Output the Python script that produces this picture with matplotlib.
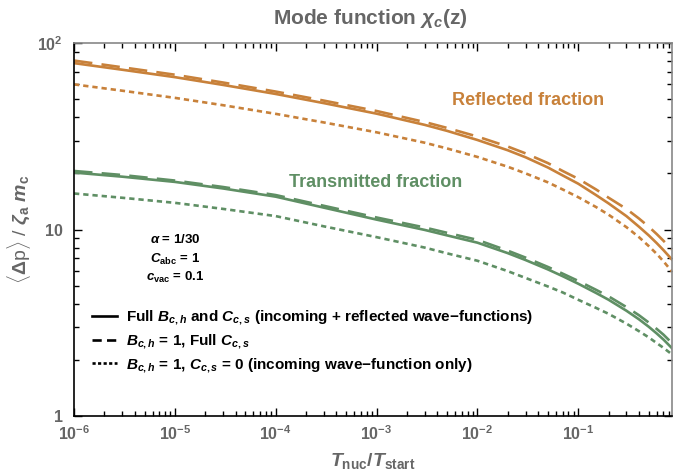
import math
import matplotlib
matplotlib.use("Agg")
import matplotlib.pyplot as plt
from matplotlib.lines import Line2D
from matplotlib.ticker import FixedLocator, FuncFormatter, LogLocator, NullFormatter

plt.rcParams['font.family'] = ['Liberation Sans', 'DejaVu Sans']
plt.rcParams['font.weight'] = 'bold'
plt.rcParams['mathtext.fontset'] = 'custom'
plt.rcParams['mathtext.rm'] = 'Liberation Sans:bold'
plt.rcParams['mathtext.bf'] = 'Liberation Sans:bold'
plt.rcParams['mathtext.it'] = 'Liberation Sans:italic:bold'
plt.rcParams['mathtext.default'] = 'bf'

# T_nuc / T_start
x = [1e-6, 3e-6, 1e-5, 3e-5, 1e-4, 3e-4, 1e-3, 3e-3, 5e-3, 1e-2, 2e-2, 3e-2, 0.05, 0.07,
     0.1, 0.15, 0.2, 0.3, 0.4, 0.5, 0.6, 0.7, 0.85]

# reflected fraction
refl_full = [78, 71.9, 65.6, 59.6, 53.3, 47.6, 41.8, 36.4, 33.8, 30.2, 26.6, 24.4, 21.5, 19.5,
             17.6, 15.3, 13.8, 11.8, 10.35, 9.3, 8.45, 7.75, 6.9]
refl_b1 = [80.5, 74.1, 67.6, 61.4, 54.9, 49.1, 43.2, 37.7, 35.05, 31.5, 27.85, 25.6, 22.7, 20.6,
           18.7, 16.4, 14.8, 12.9, 11.45, 10.35, 9.45, 8.7, 7.8]
refl_c0 = [60, 55.5, 50.8, 46.4, 41.7, 37.5, 33.2, 29.2, 27.2, 24.5, 21.7, 20.0, 17.9, 16.4,
           14.9, 13.2, 12.0, 10.3, 9.1, 8.15, 7.4, 6.75, 5.95]

# transmitted fraction
trans_full = [20.2, 19.2, 18.0, 16.6, 15.0, 13.1, 11.3, 9.95, 9.3, 8.5, 7.47, 6.86, 6.11, 5.62,
              5.12, 4.57, 4.2, 3.67, 3.30, 3.01, 2.77, 2.57, 2.31]
trans_b1 = [20.6, 19.6, 18.3, 16.9, 15.3, 13.4, 11.6, 10.25, 9.6, 8.8, 7.7, 7.07, 6.3, 5.8,
            5.3, 4.75, 4.38, 3.84, 3.47, 3.17, 2.93, 2.73, 2.46]
trans_c0 = [15.6, 14.8, 13.9, 12.9, 11.8, 10.4, 9.1, 8.0, 7.45, 6.8, 5.98, 5.5, 4.95, 4.6,
            4.2, 3.8, 3.53, 3.13, 2.85, 2.64, 2.46, 2.32, 2.14]

orange = '#c8813a'
green = '#5f8f64'
gray = '#666666'

dash_long = (0, (7, 3.5))
dash_short = (0, (2, 1.5))

fig = plt.figure(figsize=(6.73, 4.72), dpi=100)
ax = fig.add_axes([0.110, 0.1186, 0.8885, 0.7903])

lw = 1.9
ax.plot(x, refl_full, color=orange, lw=lw)
ax.plot(x, refl_b1, color=orange, lw=lw, linestyle=dash_long)
ax.plot(x, refl_c0, color=orange, lw=lw, linestyle=dash_short)
ax.plot(x, trans_full, color=green, lw=lw)
ax.plot(x, trans_b1, color=green, lw=lw, linestyle=dash_long)
ax.plot(x, trans_c0, color=green, lw=lw, linestyle=dash_short)

ax.set_xscale('log')
ax.set_yscale('log')
ax.set_xlim(1e-6, 0.85)
ax.set_ylim(1, 100)

ax.xaxis.set_major_locator(FixedLocator([1e-6, 1e-5, 1e-4, 1e-3, 1e-2, 1e-1]))
ax.xaxis.set_minor_locator(LogLocator(base=10, subs=range(2, 10), numticks=20))
ax.xaxis.set_minor_formatter(NullFormatter())
ax.xaxis.set_major_formatter(FuncFormatter(lambda v, p: r'$10^{%d}$' % round(math.log10(v))))
ax.yaxis.set_major_locator(FixedLocator([1, 10, 100]))
ax.yaxis.set_minor_locator(LogLocator(base=10, subs=range(2, 10), numticks=20))
ax.yaxis.set_minor_formatter(NullFormatter())
ax.yaxis.set_major_formatter(FuncFormatter(lambda v, p: {1: '1', 10: '10', 100: r'$10^2$'}[round(v)]))

ax.tick_params(which='both', direction='in', top=True, right=True, colors='black',
               labelcolor=gray, labelsize=11.5, width=1)
ax.tick_params(which='major', length=6)
ax.tick_params(which='minor', length=3.5)
ax.tick_params(axis='x', which='major', pad=6)
ax.tick_params(axis='y', which='major', pad=8)
for s in ax.spines.values():
    s.set_linewidth(1.2)
ax.spines['top'].set_color('#888888')
ax.spines['right'].set_color('#888888')

ax.set_xlabel(r'$\mathit{T}_{\rm nuc}/\mathit{T}_{\rm start}$', fontsize=14, color=gray, labelpad=6)
ax.set_ylabel(r'$\langle\Delta$p$\rangle$ / $\mathit{\zeta}_a\ \mathit{m}_c$', fontsize=14, color=gray, labelpad=3)
fig.text(0.55, 1 - 18 / 472, r'Mode function $\mathit{\chi}_\mathit{c}$(z)', ha='center', va='center',
         fontsize=15, color=gray)

ax.text(0.169, 0.4745, r'$\mathit{\alpha}$ = 1/30', transform=ax.transAxes, ha='center', va='center', fontsize=9.5)
ax.text(0.169, 0.421, r'$\mathit{C}_{\rm abc}$ = 1', transform=ax.transAxes, ha='center', va='center', fontsize=9.5)
ax.text(0.169, 0.3727, r'$\mathit{c}_{\rm vac}$ = 0.1', transform=ax.transAxes, ha='center', va='center', fontsize=9.5)

ax.text(0.759, 0.847, 'Reflected fraction', transform=ax.transAxes, ha='center', va='center',
        fontsize=13, color=orange)
ax.text(0.505, 0.625, 'Transmitted fraction', transform=ax.transAxes, ha='center', va='center',
        fontsize=13, color=green)

handles = [Line2D([], [], color='black', lw=lw),
           Line2D([], [], color='black', lw=lw, linestyle=(0, (3.5, 2))),
           Line2D([], [], color='black', lw=lw, linestyle=(0, (1.2, 0.9)))]
labels = [r'Full $\mathit{B}_{\mathit{c,h}}$ and $\mathit{C}_{\mathit{c,s}}$ (incoming + reflected wave$-$functions)',
          r'$\mathit{B}_{\mathit{c,h}}$ = 1, Full $\mathit{C}_{\mathit{c,s}}$',
          r'$\mathit{B}_{\mathit{c,h}}$ = 1, $\mathit{C}_{\mathit{c,s}}$ = 0 (incoming wave$-$function only)']
ax.legend(handles, labels, loc='upper left', bbox_to_anchor=(0.02, 0.303), frameon=False,
          fontsize=11, handlelength=1.6, handletextpad=0.6, labelspacing=0.35, borderaxespad=0.0)

fig.savefig('out.png', dpi=100)
